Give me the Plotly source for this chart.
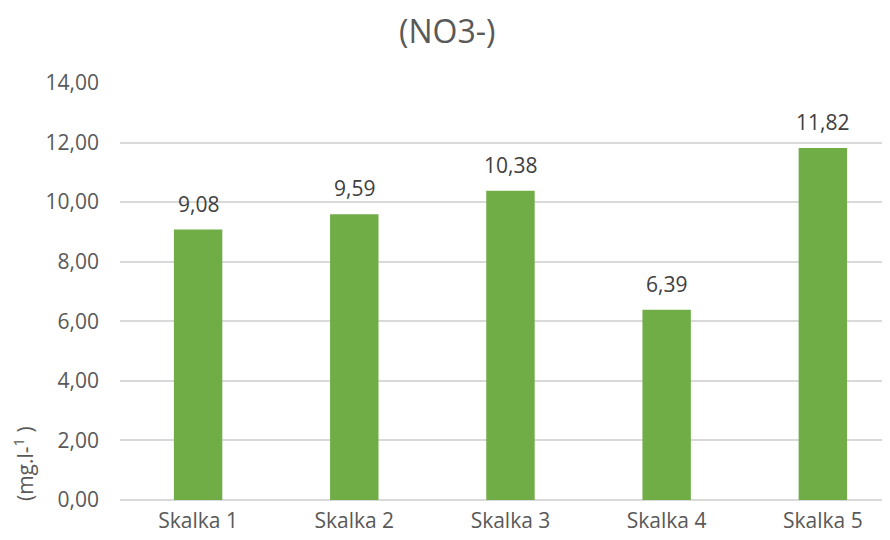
import plotly.graph_objects as go

categories = ["Skalka 1", "Skalka 2", "Skalka 3", "Skalka 4", "Skalka 5"]
values = [9.08, 9.59, 10.38, 6.39, 11.82]
tick_vals = [0, 2, 4, 6, 8, 10, 12, 14]
tick_text = ["0,00", "2,00", "4,00", "6,00", "8,00", "10,00", "12,00", "14,00"]
labels = [f"{v:.2f}".replace(".", ",") for v in values]

font = "Open Sans, Liberation Sans, sans-serif"

fig = go.Figure(go.Bar(
    x=categories, y=values,
    marker=dict(color="#70AD47", line=dict(width=0)),
    hoverinfo="x+y",
))

for c, v, t in zip(categories, values, labels):
    fig.add_annotation(x=c, y=v, text=t, showarrow=False, yanchor="bottom",
                       yshift=10, font=dict(size=21, color="#404040", family=font))

fig.add_annotation(xref="paper", yref="paper", x=-0.125, y=0.088,
                   text="(mg.l-<sup>1</sup> )", textangle=-90, showarrow=False,
                   xanchor="center", yanchor="middle", borderpad=0,
                   font=dict(size=21, color="#595959", family=font))

fig.update_layout(
    width=882, height=532,
    margin=dict(l=112, r=0, t=75, b=40, autoexpand=False),
    paper_bgcolor="white", plot_bgcolor="white",
    bargap=0.69,
    showlegend=False,
    title=dict(text="(NO3-)", x=0.498, xref="container", xanchor="center", y=0.955, yanchor="middle",
               font=dict(size=32, color="#595959", family=font)),
    font=dict(family=font, color="#595959"),
)
fig.update_yaxes(
    range=[0, 14], tickvals=tick_vals, ticktext=tick_text,
    showgrid=True, gridcolor="#D9D9D9", gridwidth=1.5,
    zeroline=True, zerolinecolor="#D9D9D9", zerolinewidth=1.5,
    showline=False, ticks="", ticklabelstandoff=20,
    tickfont=dict(size=21, color="#595959"),
)
fig.update_xaxes(
    range=[-0.5, 4.43],
    showgrid=False, showline=False, ticks="", ticklabelstandoff=6,
    tickfont=dict(size=21, color="#595959"),
)

fig.write_html("out.html")
